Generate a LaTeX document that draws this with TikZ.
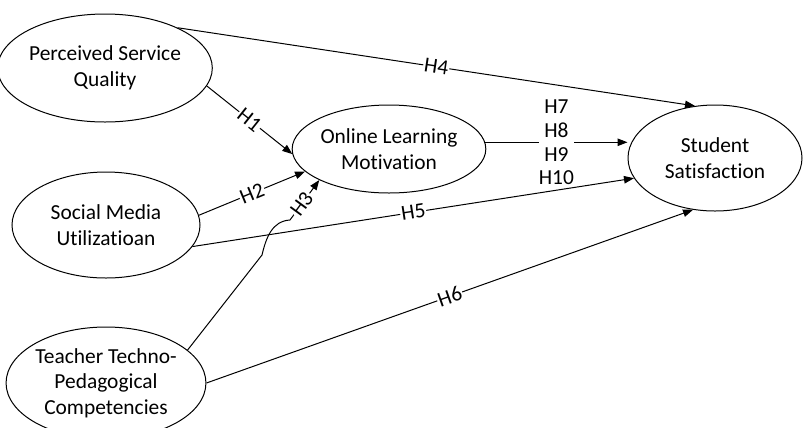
\documentclass[tikz,border=0pt]{standalone}
\usepackage{fontspec}
\setmainfont{Carlito}[Ligatures={NoCommon,NoRequired,NoContextual}]
\usetikzlibrary{shapes.geometric,arrows.meta}
\begin{document}
\begin{tikzpicture}[x=1bp,y=-1bp,
  every node/.style={font=\fontsize{21.5}{25.6}\selectfont},
  construct/.style={ellipse,draw,line width=1bp,inner sep=0pt,align=center},
  conn/.style={line width=1bp,-{Triangle[length=10bp,width=7.5bp]}},
  lbl/.style={fill=white,inner xsep=1bp,inner ysep=0bp,sloped},
  stack/.style={fill=white,inner xsep=0bp,inner ysep=1bp,align=center,font=\fontsize{21.5}{24}\selectfont}]
\useasboundingbox (0,0) rectangle (803,427);
\node[construct,minimum width=186bp,minimum height=108bp] (psq) at (105,68) {Perceived Service\\Quality};
\node[construct,minimum width=188bp,minimum height=106bp] (smu) at (106,225) {Social Media\\Utilizatioan};
\node[construct,minimum width=188bp,minimum height=112bp] (ttp) at (106,383) {Teacher Techno-\\Pedagogical\\Competencies};
\node[construct,minimum width=154bp,minimum height=88bp] (olm) at (389,149) {Online Learning\\Motivation};
\node[construct,minimum width=174bp,minimum height=106bp] (ss) at (715,158) {Student\\Satisfaction};
\coordinate (hopA) at (262,255);
\coordinate (hopB) at (290,220);
\draw[conn] (psq.29.6) -- node[lbl]{H4} (ss.111);
\draw[conn] (psq.-10) -- node[lbl]{H1} (olm.183);
\draw[conn] (smu.6.8) -- node[lbl]{H2} (olm.195);
\draw[conn] (ttp.22.7) -- (hopA) .. controls (266,238) and (272,221) .. (hopB) -- node[lbl,pos=0.4]{H3} (olm.204);
\draw[conn] (smu.-14.3) -- node[lbl]{H5} (ss.194.8);
\draw[conn] (ttp.0) -- node[lbl]{H6} (ss.247.5);
\draw[conn] (olm.4) -- node[stack,pos=0.5]{H7\\H8\\H9\\H10} (olm.4 -| ss.west);
\end{tikzpicture}
\end{document}
